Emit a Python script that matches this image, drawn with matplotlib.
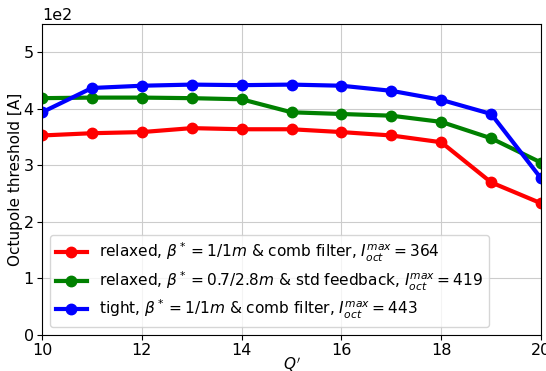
import matplotlib
matplotlib.use("Agg")
import matplotlib.pyplot as plt

q_prime = [10, 11, 12, 13, 14, 15, 16, 17, 18, 19, 20]
relaxed_comb = [353, 357, 359, 366, 364, 364, 359, 353, 341, 270, 233]
relaxed_std = [419, 420, 420, 419, 417, 394, 391, 388, 377, 348, 305]
tight_comb = [394, 437, 441, 443, 442, 443, 441, 432, 416, 391, 277]

labels = [
    r"relaxed, $\beta^* = 1/1m$ & comb filter, $I_{oct}^{max} = 364$",
    r"relaxed, $\beta^* = 0.7/2.8m$ & std feedback, $I_{oct}^{max} = 419$",
    r"tight, $\beta^* = 1/1m$ & comb filter, $I_{oct}^{max} = 443$",
]
colors = ["red", "green", "blue"]

fig, ax = plt.subplots(figsize=(5.46, 3.71), dpi=100)
fig.subplots_adjust(left=0.077, right=0.991, top=0.935, bottom=0.097)

for ys, lab, c in zip([relaxed_comb, relaxed_std, tight_comb], labels, colors):
    ax.plot(q_prime, ys, "-o", color=c, lw=3, ms=7.5, label=lab)

ax.set_xlim(10, 20)
ax.set_ylim(0, 550)
ax.set_xticks([10, 12, 14, 16, 18, 20])
ax.set_yticks([0, 100, 200, 300, 400, 500])
ax.ticklabel_format(axis="y", style="sci", scilimits=(0, 0))
ax.yaxis.get_offset_text().set_fontsize(11.5)
ax.tick_params(labelsize=11.5, pad=2.5)
ax.grid(True, color="#cccccc")
ax.set_xlabel(r"$Q'$", fontsize=11, labelpad=-2)
ax.set_ylabel("Octupole threshold [A]", fontsize=11, labelpad=0)
ax.legend(loc="lower left", fontsize=11.1, labelspacing=0.35)
fig.savefig("out.png", dpi=100)
